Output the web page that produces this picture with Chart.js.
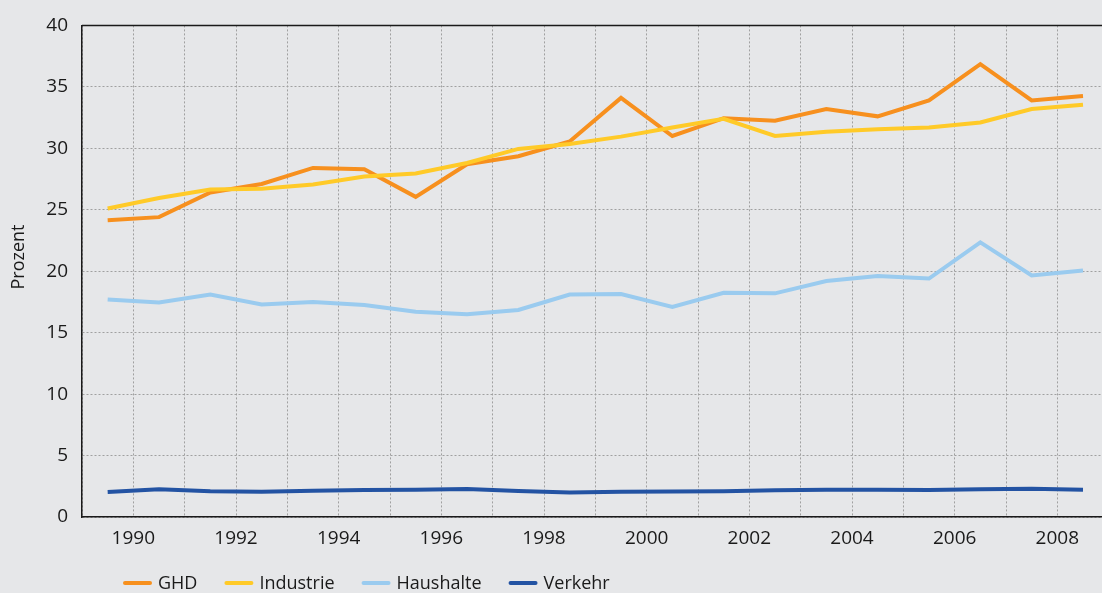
<!DOCTYPE html>
<html>
<head>
<meta charset="utf-8">
<script src="https://cdn.jsdelivr.net/npm/chart.js"></script>
<style>
  html, body { margin: 0; padding: 0; background: #e6e7e9; }
  canvas { display: block; }
</style>
</head>
<body>
<canvas id="lineChart" width="1102" height="593"></canvas>
<script>
const years = [1990, 1991, 1992, 1993, 1994, 1995, 1996, 1997, 1998, 1999,
               2000, 2001, 2002, 2003, 2004, 2005, 2006, 2007, 2008, 2009];
const ghd = [24.15, 24.4, 26.4, 27.1, 28.4, 28.3, 26.05, 28.7, 29.35, 30.55,
             34.1, 31.0, 32.45, 32.25, 33.2, 32.6, 33.9, 36.85, 33.9, 34.25];
const industrie = [25.1, 25.95, 26.65, 26.7, 27.05, 27.7, 27.95, 28.8, 29.95, 30.35,
                   30.95, 31.7, 32.4, 31.0, 31.35, 31.55, 31.7, 32.1, 33.2, 33.55];
const haushalte = [17.7, 17.45, 18.1, 17.3, 17.5, 17.25, 16.7, 16.5, 16.85, 18.1,
                   18.15, 17.1, 18.25, 18.2, 19.2, 19.6, 19.4, 22.35, 19.65, 20.05];
const verkehr = [2.03, 2.25, 2.1, 2.05, 2.14, 2.19, 2.22, 2.27, 2.11, 2.0,
                 2.05, 2.08, 2.1, 2.18, 2.22, 2.22, 2.2, 2.25, 2.3, 2.22];
const yTicks = [0, 5, 10, 15, 20, 25, 30, 35, 40];
const xTickYears = [1989, 1990, 1991, 1992, 1993, 1994, 1995, 1996, 1997, 1998,
                    1999, 2000, 2001, 2002, 2003, 2004, 2005, 2006, 2007, 2008];
const yTitle = "Prozent";

const FONT = "'Open Sans', 'Noto Sans', sans-serif";
const TEXT = "#1a1a1a";

// each value sits in the middle of the year band before its label
const toPoints = (vals) => vals.map((v, i) => ({ x: years[i] - 0.5, y: v }));

const makeSet = (label, vals, color, order) => ({
  label,
  data: toPoints(vals),
  borderColor: color,
  backgroundColor: color,
  borderWidth: 4,
  pointRadius: 0,
  tension: 0,
  order,
});

// top frame line, axis title and a left aligned legend under the axis
const framePlugin = {
  id: "frame",
  afterDraw(chart) {
    const { ctx, chartArea } = chart;
    ctx.save();
    ctx.strokeStyle = TEXT;
    ctx.lineWidth = 1.5;
    ctx.beginPath();
    ctx.moveTo(chartArea.left, chartArea.top);
    ctx.lineTo(chartArea.right, chartArea.top);
    ctx.stroke();

    ctx.font = "18px " + FONT;
    ctx.fillStyle = TEXT;

    ctx.save();
    ctx.translate(18.5, 257);
    ctx.rotate(-Math.PI / 2);
    ctx.textAlign = "center";
    ctx.textBaseline = "middle";
    ctx.fillText(yTitle, 0, 0);
    ctx.restore();

    ctx.textBaseline = "middle";
    let x = 123;
    const y = 583;
    chart.data.datasets.forEach((ds) => {
      ctx.strokeStyle = ds.borderColor;
      ctx.lineWidth = 4;
      ctx.lineCap = "round";
      ctx.beginPath();
      ctx.moveTo(x + 2, y);
      ctx.lineTo(x + 27, y);
      ctx.stroke();
      ctx.fillText(ds.label, x + 35, y + 1);
      x += 35 + ctx.measureText(ds.label).width + 27;
    });
    ctx.restore();
  },
};

const ctx = document.getElementById("lineChart").getContext("2d");
new Chart(ctx, {
  type: "line",
  data: {
    datasets: [
      makeSet("GHD", ghd, "#f7901e", 1),
      makeSet("Industrie", industrie, "#ffca28", 0),
      makeSet("Haushalte", haushalte, "#9acbef", 2),
      makeSet("Verkehr", verkehr, "#2353a3", 3),
    ],
  },
  options: {
    responsive: false,
    devicePixelRatio: 1,
    animation: false,
    layout: { padding: { top: 24, right: 0, bottom: 0, left: 0 } },
    plugins: { legend: { display: false }, tooltip: { enabled: false } },
    scales: {
      x: {
        type: "linear",
        min: 1989,
        max: 2008.87,
        afterBuildTicks: (scale) => {
          scale.ticks = xTickYears.map((v) => ({ value: v }));
        },
        afterFit: (scale) => { scale.height = 76; },
        ticks: {
          autoSkip: false,
          maxRotation: 0,
          padding: 10,
          color: TEXT,
          font: { family: FONT, size: 19 },
          callback: (v) => (v % 2 === 0 && v > 1989 ? String(v) : ""),
        },
        grid: { color: "#a0a0a0", lineWidth: 1, drawTicks: false },
        border: { display: true, color: TEXT, width: 1.5, dash: [2, 2] },
      },
      y: {
        min: 0,
        max: 40,
        afterBuildTicks: (scale) => {
          scale.ticks = yTicks.map((v) => ({ value: v }));
        },
        afterFit: (scale) => { scale.width = 82; },
        ticks: {
          padding: 14,
          color: TEXT,
          font: { family: FONT, size: 19 },
        },
        grid: { color: "#a0a0a0", lineWidth: 1, drawTicks: false },
        border: { display: true, color: TEXT, width: 1.5, dash: [2, 2] },
      },
    },
  },
  plugins: [framePlugin],
});
</script>
</body>
</html>
